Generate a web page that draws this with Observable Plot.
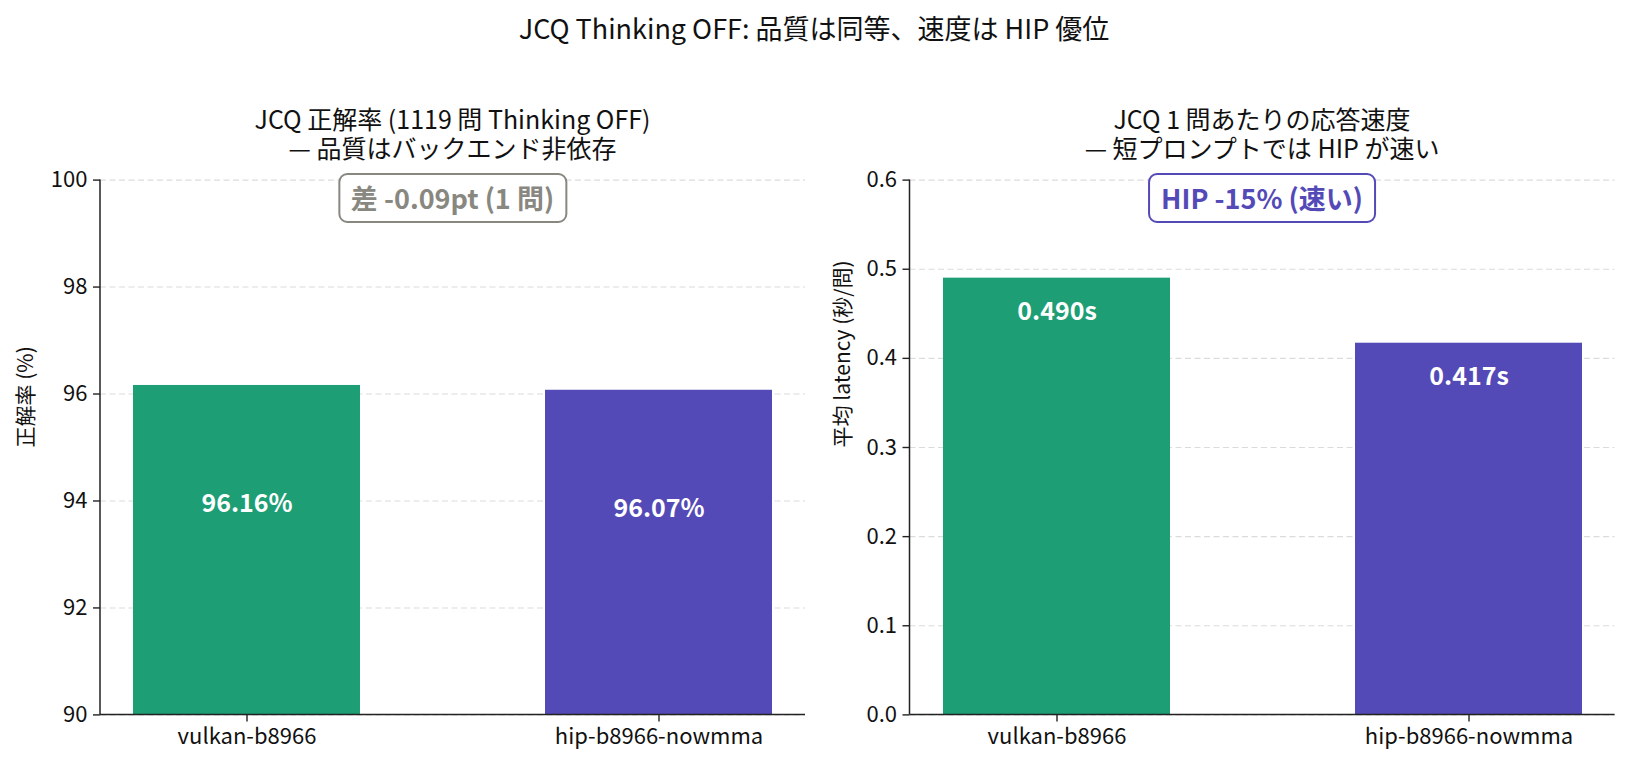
<!DOCTYPE html>
<html>
<head>
<meta charset="utf-8">
<script src="https://cdn.jsdelivr.net/npm/d3@7"></script>
<script src="https://cdn.jsdelivr.net/npm/@observablehq/plot@0.6"></script>
<style>
  body { margin: 0; background: #fff; }
  #root { position: relative; width: 1628px; height: 767px; font-family: "Noto Sans CJK JP", "Noto Sans", sans-serif; color: #111; overflow: hidden; }
  .abs { position: absolute; }
  .title { left: 0; width: 1628px; top: 27px; transform: translateY(-50%); text-align: center; font-size: 27px; }
  .sub { transform: translate(-50%, -50%); text-align: center; font-size: 25px; line-height: 29px; white-space: nowrap; }
  .box { transform: translate(-50%, -50%); font-size: 27px; font-weight: bold; line-height: 32px; padding: 7px 11px; border: 2.2px solid; border-radius: 9px; white-space: nowrap; background: #fff; }
  svg { position: absolute; top: 0; }
</style>
</head>
<body>
<div id="root"></div>
<script>
const categories = ["vulkan-b8966", "hip-b8966-nowmma"];
const accuracy = [96.16, 96.07];
const latency = [0.490, 0.417];
const accuracyLabels = ["96.16%", "96.07%"];
const latencyLabels = ["0.490s", "0.417s"];
const accTicks = [90, 92, 94, 96, 98, 100];
const latTicks = [0.0, 0.1, 0.2, 0.3, 0.4, 0.5, 0.6];
const barColors = ["#1D9E75", "#534AB7"];

const suptitle = "JCQ Thinking OFF: 品質は同等、速度は HIP 優位";
const leftTitle = ["JCQ 正解率 (1119 問 Thinking OFF)", "— 品質はバックエンド非依存"];
const rightTitle = ["JCQ 1 問あたりの応答速度", "— 短プロンプトでは HIP が速い"];
const leftYLabel = "正解率 (%)";
const rightYLabel = "平均 latency (秒/問)";
const leftNote = "差 -0.09pt (1 問)";
const rightNote = "HIP -15% (速い)";

const accData = categories.map((c, i) => ({cat: c, v: accuracy[i], label: accuracyLabels[i]}));
const latData = categories.map((c, i) => ({cat: c, v: latency[i], label: latencyLabels[i]}));

const root = document.getElementById("root");
const FONT = '"Noto Sans CJK JP", "Noto Sans", sans-serif';

function spines() {
  return (index, scales, values, dims) => {
    const g = d3.create("svg:g").attr("stroke", "#222").attr("stroke-width", 1.5).attr("fill", "none");
    const x0 = dims.marginLeft, x1 = dims.width - dims.marginRight;
    const y0 = dims.marginTop, y1 = dims.height - dims.marginBottom;
    g.append("line").attr("x1", x0).attr("x2", x0).attr("y1", y0).attr("y2", y1);
    g.append("line").attr("x1", x0).attr("x2", x1).attr("y1", y1).attr("y2", y1);
    return g.node();
  };
}

function panel({data, domain, ticks, fmt, ylabel, labelDy, ylabelOffset, marginLeft, marginRight}) {
  return Plot.plot({
    width: 814,
    height: 767,
    marginLeft,
    marginRight,
    marginTop: 179.6,
    marginBottom: 52.6,
    style: {fontFamily: FONT, fontSize: "22px", color: "#111", background: "transparent", overflow: "visible"},
    x: {type: "band", domain: categories, paddingInner: 0.45, paddingOuter: 0.08, label: null},
    y: {domain, label: null},
    color: {domain: categories, range: barColors},
    marks: [
      Plot.gridY(ticks, {stroke: "#cccccc", strokeOpacity: 0.7, strokeDasharray: "6,3.5", strokeWidth: 1.1}),
      Plot.barY(data, {x: "cat", y: "v", fill: "cat", clip: true}),
      Plot.text(data, {x: "cat", y: "v", text: "label", dy: labelDy, fill: "white", fontWeight: "bold", fontSize: 25}),
      Plot.axisY({ticks, tickFormat: fmt, tickSize: 7, tickPadding: 6, fontSize: 22, stroke: "#222", strokeWidth: 1.4}),
      Plot.axisX({tickSize: 7, tickPadding: 6, fontSize: 22, stroke: "#222", strokeWidth: 1.4}),
      Plot.text([ylabel], {text: d => d, frameAnchor: "left", dx: -ylabelOffset, rotate: -90, fontSize: 21}),
      spines()
    ]
  });
}

const left = panel({
  data: accData, domain: [90, 100], ticks: accTicks, fmt: d3.format("d"),
  ylabel: leftYLabel, labelDy: 119, ylabelOffset: 74, marginLeft: 100, marginRight: 9
});
left.style.left = "0px";
root.appendChild(left);

const right = panel({
  data: latData, domain: [0, 0.6], ticks: latTicks, fmt: d3.format(".1f"),
  ylabel: rightYLabel, labelDy: 34, ylabelOffset: 66.5, marginLeft: 95.5, marginRight: 13.4
});
right.style.left = "814px";
root.appendChild(right);

function addDiv(cls, text, x, y, extra) {
  const d = document.createElement("div");
  d.className = "abs " + cls;
  d.textContent = text;
  if (x != null) d.style.left = x + "px";
  if (y != null) d.style.top = y + "px";
  Object.assign(d.style, extra || {});
  root.appendChild(d);
  return d;
}

addDiv("title", suptitle);
const lc = (100 + 805) / 2, rc = (909.5 + 1614.6) / 2;
addDiv("sub", leftTitle.join("\n"), lc, 133, {whiteSpace: "pre"});
addDiv("sub", rightTitle.join("\n"), rc, 133, {whiteSpace: "pre"});
addDiv("box", leftNote, lc, 197.5, {color: "#888780", borderColor: "#888780"});
addDiv("box", rightNote, rc, 197.5, {color: "#534AB7", borderColor: "#534AB7"});
</script>
</body>
</html>
